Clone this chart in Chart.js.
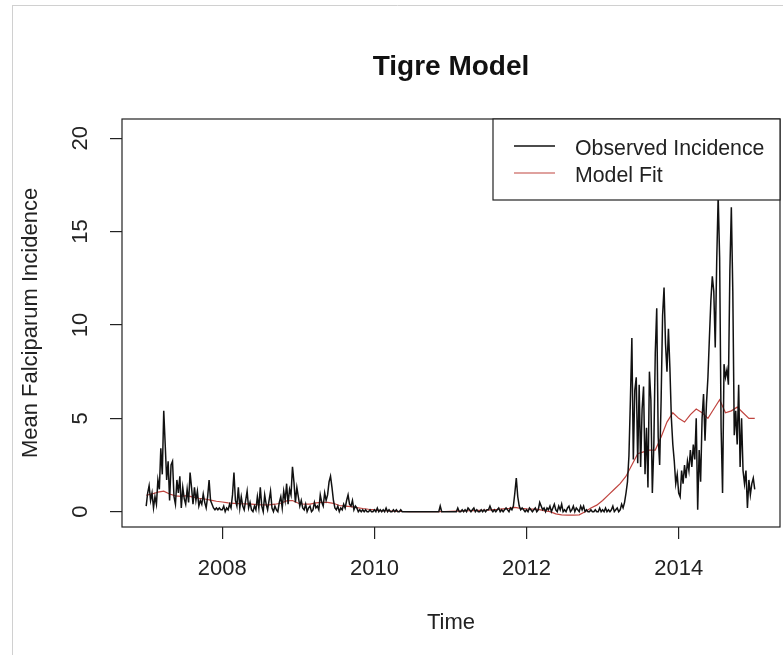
<!DOCTYPE html>
<html>
<head>
<meta charset="utf-8">
<title>Tigre Model</title>
<script src="https://cdn.jsdelivr.net/npm/chart.js@4.4.1/dist/chart.umd.min.js"></script>
<style>
  html, body { margin: 0; padding: 0; background: #fff; }
  canvas { display: block; }
</style>
</head>
<body>
<canvas id="graficoTigre" width="783" height="655"></canvas>
<script>
// serie semanal, começa em 2007
const anoInicio = 2007
const semanasPorAno = 52
const passoModelo = 4

const anosEixoX = [2008, 2010, 2012, 2014]
const ticksEixoY = [0, 5, 10, 15, 20]

// incidencia observada, um array por ano (52 semanas)
const obs2007 = [0.3, 1.0, 1.4, 0.6, 1.0, 0.2, 0.8, 0.4, 1.7, 1.2, 3.4, 2.0, 5.4, 3.6, 1.7, 2.7,
  0.6, 2.5, 2.7, 0.8, 0.4, 1.7, 1.0, 1.9, 0.2, 1.3, 0.7, 0.4, 1.2, 0.5, 2.1, 1.3,
  0.4, 1.3, 0.6, 1.1, 0.3, 0.6, 0.4, 0.95, 0.5, 0.2, 0.8, 1.7, 0.6, 0.4, 0.2, 0.1,
  0.2, 0.1, 0.2, 0.1]
const obs2008 = [0.1, 0.3, 0.0, 0.2, 0.1, 0.4, 0.2, 0.9, 2.1, 0.6, 0.3, 1.3, 0.2, 0.8, 0.3, 0.1,
  0.6, 1.1, 0.2, 0.5, 0.1, 0.0, 0.3, 0.1, 0.8, 0.2, 1.3, 0.3, 0.0, 0.9, 0.4, 0.1,
  0.6, 1.1, 0.2, 0.0, 0.3, 0.1, 0.0, 0.5, 0.8, 0.2, 1.1, 0.6, 1.5, 0.4, 1.2, 0.9,
  2.4, 1.6, 0.5, 1.3]
const obs2009 = [0.8, 0.3, 0.6, 0.2, 0.1, 0.4, 0.0, 0.2, 0.3, 0.0, 0.1, 0.5, 0.2, 0.3, 0.1, 0.9,
  0.5, 0.3, 1.0, 0.6, 0.9, 1.6, 1.9, 1.3, 0.6, 0.2, 0.1, 0.3, 0.0, 0.2, 0.1, 0.4,
  0.2, 0.6, 0.9, 0.4, 0.3, 0.6, 0.1, 0.3, 0.2, 0.0, 0.1, 0.0, 0.1, 0.0, 0.1, 0.0,
  0.0, 0.1, 0.0, 0.0]
const obs2010 = [0.1, 0.0, 0.2, 0.0, 0.1, 0.0, 0.1, 0.0, 0.2, 0.0, 0.1, 0.0, 0.0, 0.1, 0.0, 0.1,
  0.0, 0.0, 0.1, 0.0, 0.0, 0, 0, 0, 0, 0, 0, 0, 0, 0, 0, 0,
  0, 0, 0, 0, 0, 0, 0, 0, 0, 0, 0, 0, 0, 0.3, 0, 0,
  0, 0, 0, 0]
const obs2011 = [0, 0, 0, 0, 0, 0.2, 0, 0, 0.1, 0, 0.1, 0, 0.2, 0.1, 0, 0.1,
  0.2, 0, 0.1, 0, 0, 0.1, 0, 0.1, 0, 0.1, 0.1, 0.3, 0.1, 0, 0.1, 0,
  0.1, 0.2, 0, 0.1, 0, 0.1, 0.2, 0.1, 0, 0.2, 0.1, 0.3, 1.0, 1.8, 0.8, 0.3,
  0.1, 0.2, 0.1, 0]
const obs2012 = [0.1, 0, 0.2, 0.1, 0, 0.1, 0.2, 0, 0.1, 0.5, 0.3, 0.1, 0.2, 0, 0.2, 0.1,
  0.3, 0, 0.2, 0.4, 0.1, 0, 0.3, 0.1, 0.4, 0, 0.1, 0, 0.2, 0.3, 0, 0.1,
  0.3, 0, 0.2, 0.1, 0, 0.3, 0.1, 0.3, 0, 0.1, 0, 0, 0.1, 0, 0, 0.1,
  0, 0, 0.2, 0]
const obs2013 = [0.1, 0, 0.2, 0, 0.1, 0, 0.1, 0.3, 0, 0.1, 0.2, 0, 0.1, 0.4, 0.2, 0.5,
  1.0, 1.6, 3.0, 6.0, 9.3, 2.8, 6.5, 7.2, 2.6, 6.8, 2.4, 5.5, 6.7, 2.0, 4.5, 1.3,
  7.5, 6.0, 1.0, 3.5, 8.5, 10.9, 4.0, 2.5, 6.0, 10.5, 12.0, 9.0, 7.5, 9.8, 7.7, 5.0,
  3.6, 2.7, 1.5, 2.0]
const obs2014 = [1.0, 0.8, 2.2, 1.5, 2.5, 1.8, 2.7, 2.2, 3.3, 2.4, 3.6, 2.8, 5.0, 0.1, 3.3, 1.6,
  5.0, 6.3, 3.8, 5.8, 7.2, 9.3, 11.3, 12.6, 11.8, 8.8, 13.4, 16.9, 13.6, 4.5, 1.0, 7.9,
  7.2, 7.6, 6.8, 12.9, 16.3, 11.8, 4.1, 5.4, 3.6, 6.8, 2.4, 5.0, 2.2, 1.5, 2.2, 0.2,
  1.7, 0.9, 1.5, 1.8]
const obs2015 = [1.2]

// ajuste do modelo (a cada 4 semanas)
const ajusteModelo = [0.88, 0.95, 1.05, 1.1, 0.95, 0.85, 0.82, 0.86, 0.78, 0.72,
  0.68, 0.62, 0.56, 0.52, 0.47, 0.45, 0.43, 0.42, 0.41, 0.38,
  0.36, 0.37, 0.4, 0.45, 0.58, 0.6, 0.45, 0.4, 0.41, 0.47,
  0.5, 0.5, 0.45, 0.33, 0.3, 0.27, 0.22, 0.17, 0.13, 0.1,
  0.06, 0.05, 0.03, 0.02, 0.01, 0, 0, 0, 0, 0,
  0, 0.01, 0.02, 0.03, 0.04, 0.05, 0.06, 0.07, 0.08, 0.1,
  0.12, 0.15, 0.18, 0.23, 0.18, 0.15, 0.14, 0.12, 0.06, 0.0,
  -0.12, -0.17, -0.18, -0.18, -0.17, 0.0, 0.2, 0.35, 0.6, 0.9,
  1.2, 1.5, 1.9, 2.5, 3.1, 3.2, 3.3, 3.3, 4.0, 4.8,
  5.3, 5.0, 4.8, 5.2, 5.5, 5.3, 5.0, 5.5, 6.0, 5.3,
  5.4, 5.6, 5.3, 5.0, 5.0]

const observado = [].concat(obs2007, obs2008, obs2009, obs2010, obs2011, obs2012, obs2013, obs2014, obs2015)

const fonte = '"Liberation Sans", Arial, sans-serif'
const corTexto = '#222'

// plugin pra desenhar o que o chart.js nao faz igual ao R
const estiloR = {
  id: 'estiloR',
  beforeDraw(chart) {
    const ctx = chart.ctx
    ctx.save()
    ctx.fillStyle = '#fff'
    ctx.fillRect(0, 0, chart.width, chart.height)
    // bordinha cinza do print
    ctx.strokeStyle = '#d0d0d0'
    ctx.lineWidth = 1
    ctx.beginPath()
    ctx.moveTo(12.5, 5)
    ctx.lineTo(12.5, chart.height)
    ctx.moveTo(12, 5.5)
    ctx.lineTo(chart.width, 5.5)
    ctx.stroke()
    ctx.restore()
  },
  afterDraw(chart) {
    const ctx = chart.ctx
    const area = chart.chartArea
    const eixoY = chart.scales.y
    ctx.save()

    // caixa em volta
    ctx.strokeStyle = corTexto
    ctx.lineWidth = 1.2
    ctx.strokeRect(area.left, area.top, area.right - area.left, area.bottom - area.top)

    // numeros do eixo y de pé
    ctx.fillStyle = corTexto
    ctx.font = '22px ' + fonte
    ctx.textAlign = 'center'
    ctx.textBaseline = 'middle'
    ticksEixoY.forEach(v => {
      ctx.save()
      ctx.translate(81, eixoY.getPixelForValue(v))
      ctx.rotate(-Math.PI / 2)
      ctx.fillText(String(v), 0, 0)
      ctx.restore()
    })

    // legenda no canto de cima
    const caixa = { x: 493, y: area.top, w: area.right - 493, h: 81 }
    ctx.fillStyle = '#fff'
    ctx.fillRect(caixa.x, caixa.y, caixa.w, caixa.h)
    ctx.strokeRect(caixa.x, caixa.y, caixa.w, caixa.h)
    ctx.textAlign = 'left'
    ctx.font = '21.3px ' + fonte
    chart.data.datasets.forEach((ds, i) => {
      const yLinha = caixa.y + 27 + i * 27
      ctx.strokeStyle = ds.borderColor
      ctx.lineWidth = ds.borderWidth
      ctx.beginPath()
      ctx.moveTo(514, yLinha)
      ctx.lineTo(555, yLinha)
      ctx.stroke()
      ctx.fillStyle = corTexto
      ctx.fillText(ds.label, 575, yLinha + 3)
    })
    ctx.restore()
  }
}

const graficoTigre = document.getElementById('graficoTigre')
const grafico = new Chart(graficoTigre, {
  type: 'line',
  data: {
    datasets: [
      {
        label: 'Observed Incidence',
        data: observado.map((v, i) => ({ x: anoInicio + i / semanasPorAno, y: v })),
        borderColor: '#111',
        borderWidth: 1.5,
        pointRadius: 0,
        tension: 0,
      },
      {
        label: 'Model Fit',
        data: ajusteModelo.map((v, k) => ({ x: anoInicio + k * passoModelo / semanasPorAno, y: v })),
        borderColor: '#c0443f',
        borderWidth: 1.2,
        pointRadius: 0,
        tension: 0,
      },
    ],
  },
  options: {
    responsive: false,
    animation: false,
    devicePixelRatio: 1,
    layout: { padding: { left: 0, right: 3, top: 0, bottom: 0 } },
    plugins: {
      legend: { display: false },
      tooltip: { enabled: false },
      title: {
        display: true,
        text: 'Tigre Model',
        fullSize: false,
        color: '#111',
        font: { family: fonte, size: 28, weight: 'bold', lineHeight: 1.2 },
        padding: { top: 50, bottom: 35.4 },
      },
    },
    scales: {
      x: {
        type: 'linear',
        min: 2006.682,
        max: 2015.332,
        afterBuildTicks: s => { s.ticks = anosEixoX.map(v => ({ value: v })) },
        afterFit: s => { s.height = 128 },
        grid: { drawOnChartArea: false, drawTicks: true, tickLength: 12, color: corTexto, lineWidth: 1.2 },
        border: { display: false },
        ticks: {
          color: corTexto,
          font: { family: fonte, size: 22 },
          padding: 17,
          maxRotation: 0,
          autoSkip: false,
          callback: v => String(v),
        },
        title: {
          display: true,
          text: 'Time',
          color: corTexto,
          font: { family: fonte, size: 22 },
          padding: { top: 19, bottom: 19 },
        },
      },
      y: {
        type: 'linear',
        min: -0.82,
        max: 21.03,
        afterBuildTicks: s => { s.ticks = ticksEixoY.map(v => ({ value: v })) },
        afterFit: s => { s.width = 122 },
        grid: { drawOnChartArea: false, drawTicks: true, tickLength: 12, color: corTexto, lineWidth: 1.2 },
        border: { display: false },
        ticks: { display: false },
        title: {
          display: true,
          text: 'Mean Falciparum Incidence',
          color: corTexto,
          font: { family: fonte, size: 22 },
          padding: { top: 18, bottom: 18 },
        },
      },
    },
  },
  plugins: [estiloR],
})
</script>
</body>
</html>
